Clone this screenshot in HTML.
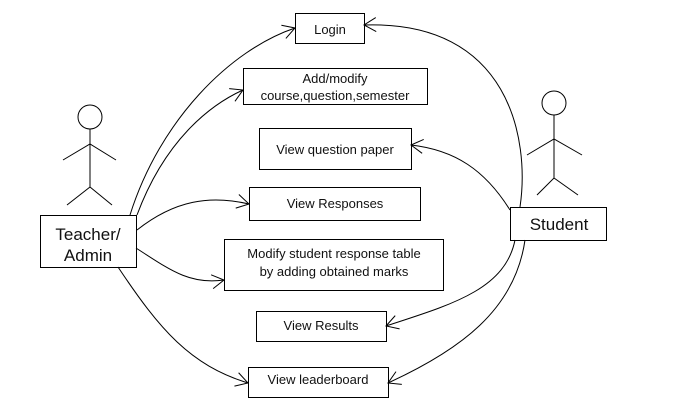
<!DOCTYPE html>
<html><head><style>body{margin:0;background:#fff}svg{display:block}text{font-family:"Segoe UI","Liberation Sans",sans-serif;font-size:13px;fill:#111}</style></head>
<body>
<svg width="685" height="416" viewBox="0 0 685 416">
<defs><marker id="a" markerWidth="16" markerHeight="16" refX="14" refY="8" orient="auto" markerUnits="userSpaceOnUse"><path d="M2,1 L14,8 L2,15" fill="none" stroke="#000" stroke-width="1"/></marker></defs>
<g fill="#fff" stroke="#000" stroke-width="1">
<rect x="295.5" y="13.5" width="69" height="30"/>
<rect x="243.5" y="68.5" width="184" height="36"/>
<rect x="259.5" y="128.5" width="152" height="41"/>
<rect x="249.5" y="187.5" width="171" height="33"/>
<rect x="224.5" y="239.5" width="219" height="51"/>
<rect x="256.5" y="311.5" width="130" height="30"/>
<rect x="248.5" y="367.5" width="140" height="30"/>
<rect x="40.5" y="215.5" width="96" height="52"/>
<rect x="510.5" y="207.5" width="96" height="33"/>
</g>
<g fill="none" stroke="#000" stroke-width="1">
<circle cx="90" cy="117" r="12"/><path d="M90,129V187M63,160L90,144L116,160M67,205L90,187L112,205"/>
<circle cx="554" cy="103" r="12"/><path d="M554,115V178M527,155L554,139L582,155M537,195L554,178L578,195"/>
<path d="M130,215 C160,120 230,50 295,28" marker-end="url(#a)"/>
<path d="M137,215 C165,140 210,105 243,90" marker-end="url(#a)"/>
<path d="M137,230 C175,200 210,195 249,204" marker-end="url(#a)"/>
<path d="M136,248 C170,270 190,285 224,280" marker-end="url(#a)"/>
<path d="M118,267 C160,330 190,365 248,383" marker-end="url(#a)"/>
<path d="M520,207 C530,140 510,20 364,25" marker-end="url(#a)"/>
<path d="M510,210 C485,170 455,150 411,145" marker-end="url(#a)"/>
<path d="M515,240 C505,290 450,305 386,326" marker-end="url(#a)"/>
<path d="M525,240 C515,310 460,350 388,383" marker-end="url(#a)"/>
</g>
<g text-anchor="middle">
<text x="330" y="34">Login</text>
<text x="335" y="83">Add/modify</text>
<text x="335" y="100">course,question,semester</text>
<text x="335" y="154">View question paper</text>
<text x="335" y="208">View Responses</text>
<text x="334" y="258">Modify student response table</text>
<text x="334" y="276">by adding obtained marks</text>
<text x="321" y="330">View Results</text>
<text x="318" y="384">View leaderboard</text>
<text x="88" y="240" style="font-size:17px">Teacher/</text>
<text x="88" y="261" style="font-size:17px">Admin</text>
<text x="559" y="230" style="font-size:17px">Student</text>
</g>
</svg>
</body></html>
